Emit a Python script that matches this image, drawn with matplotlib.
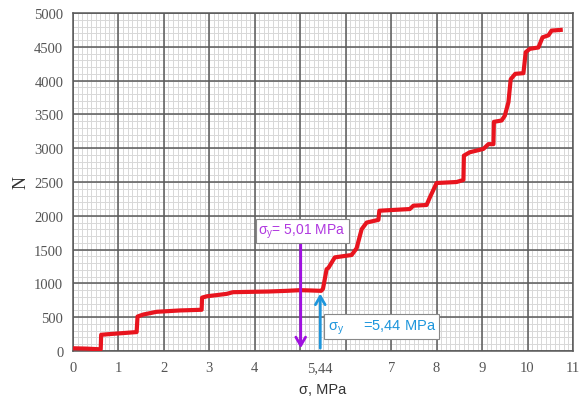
import numpy as np
import matplotlib.pyplot as plt

plt.rcParams['mathtext.default'] = 'regular'

# curve: sigma (MPa) and N
sigma = [0.02, 0.30, 0.61, 0.62, 0.80, 1.10, 1.40, 1.42, 1.55, 1.84, 2.10, 2.35, 2.60, 2.83, 2.84,
         2.95, 3.20, 3.38, 3.52, 3.90, 4.30, 4.70, 5.00, 5.25, 5.46, 5.50, 5.58, 5.62, 5.76, 6.02,
         6.13, 6.24, 6.35, 6.46, 6.72, 6.74, 7.00, 7.41, 7.49, 7.78, 7.85, 8.00, 8.44, 8.59, 8.60,
         8.73, 9.03, 9.14, 9.25, 9.26, 9.43, 9.50, 9.58, 9.63, 9.73, 9.91, 9.96, 10.05, 10.24, 10.33,
         10.46, 10.53, 10.73]
N = [40, 35, 25, 240, 250, 265, 280, 510, 540, 580, 590, 600, 605, 610, 790,
     810, 830, 845, 870, 875, 880, 890, 900, 895, 890, 920, 1210, 1230, 1385, 1410,
     1420, 1520, 1800, 1900, 1940, 2075, 2085, 2100, 2150, 2160, 2270, 2485, 2500, 2530, 2890,
     2940, 2990, 3060, 3060, 3390, 3410, 3480, 3680, 4020, 4100, 4110, 4420, 4470, 4490, 4640,
     4670, 4740, 4750]

xtick_pos = [0, 1, 2, 3, 4, 5.44, 7, 8, 9, 10, 11]
xtick_lab = ['0', '1', '2', '3', '4', '5,44', '7', '8', '9', '10', '11']
ytick_pos = list(range(0, 5001, 500))

sig_yield1 = 5.01   # purple
sig_yield2 = 5.44   # blue
N_yield2 = 890

fig = plt.figure(figsize=(5.83, 4.06), dpi=100)
ax = fig.add_axes([0.1252, 0.133, 0.8576, 0.8325])
ax.set_xlim(0, 11)
ax.set_ylim(0, 5000)

# graph paper grid
for xv in np.arange(0, 11.001, 0.1):
    ax.axvline(xv, color='#d8d8d8', lw=0.7, zorder=0)
for yv in np.arange(0, 5001, 100):
    ax.axhline(yv, color='#d8d8d8', lw=0.7, zorder=0)
for xv in range(0, 12):
    ax.axvline(xv, color='#5a5a5a', lw=1.1, zorder=1)
for yv in ytick_pos:
    ax.axhline(yv, color='#5a5a5a', lw=1.1, zorder=1)

ax.plot(sigma, N, color='#e8141e', lw=3.0, solid_joinstyle='round', zorder=3)

# arrows
ax.annotate('', xy=(sig_yield1, 0), xytext=(sig_yield1, 1650),
            arrowprops=dict(arrowstyle='->,head_width=0.35,head_length=0.6', color='#a010e0', lw=2), zorder=4)
ax.annotate('', xy=(sig_yield2, N_yield2), xytext=(sig_yield2, 0),
            arrowprops=dict(arrowstyle='->,head_width=0.35,head_length=0.6', color='#1e96dc', lw=2), zorder=4)

ax.text(4.08, 1780, '$\\mathregular{σ}$$_y$= 5,01 MPa', color='#b038e0', fontsize=10, family='Liberation Sans',
        va='center', ha='left', zorder=5,
        bbox=dict(boxstyle='square,pad=0.2', fc='white', ec='#888888', lw=0.8))
ax.text(5.6, 360, 'σ$_y$     =5,44 MPa', color='#1e96dc', fontsize=10.5, family='Liberation Sans',
        va='center', ha='left', zorder=5,
        bbox=dict(boxstyle='square,pad=0.25', fc='white', ec='#888888', lw=0.8))

ax.set_xticks(xtick_pos, xtick_lab)
ax.set_yticks(ytick_pos)
ax.tick_params(length=0, pad=7, labelsize=10.5, labelcolor='#555555')
for lab in ax.get_xticklabels() + ax.get_yticklabels():
    lab.set_family('Liberation Serif')

for s in ax.spines.values():
    s.set_color('#5a5a5a')
    s.set_linewidth(1.1)

ax.set_ylabel('N', family='Liberation Serif', fontsize=13, color='#333333', labelpad=3)
ax.set_xlabel('σ, MPa', family='Liberation Sans', fontsize=10.5, color='#333333', labelpad=6)

fig.savefig('out.png', dpi=100)
